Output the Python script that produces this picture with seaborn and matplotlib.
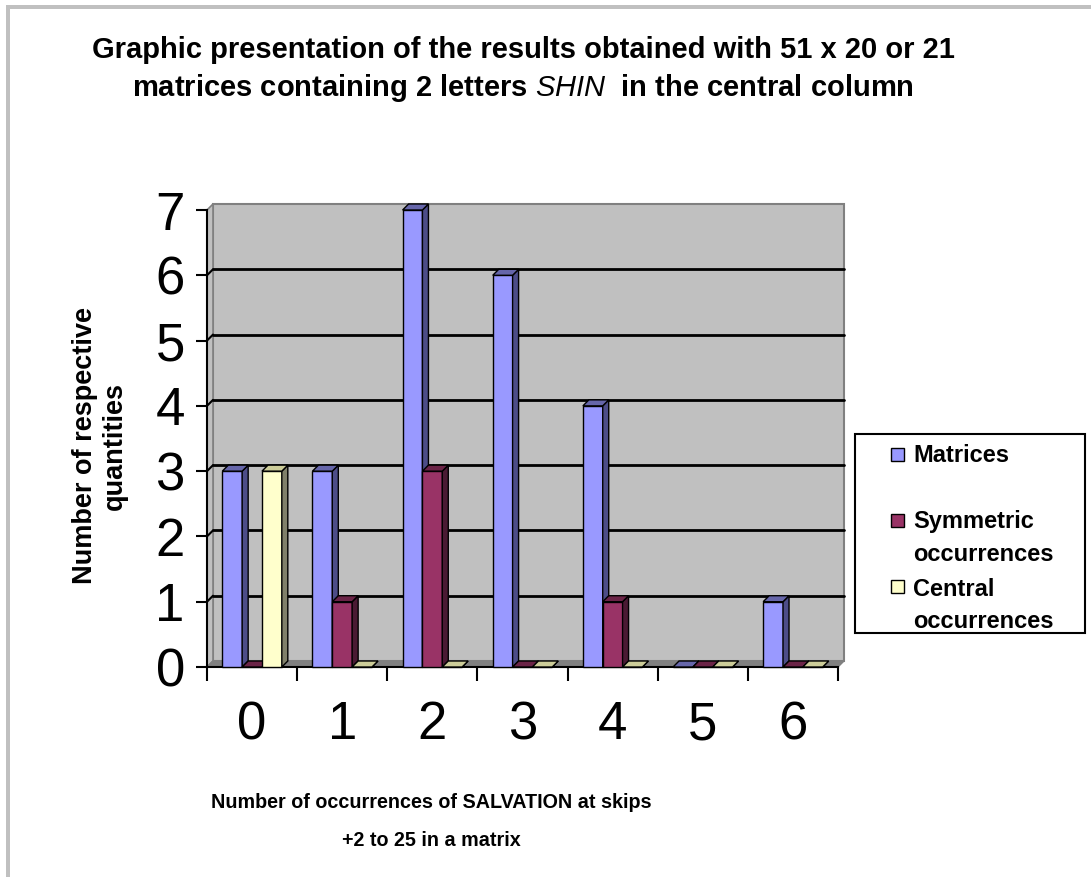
import matplotlib
matplotlib.use("Agg")
import matplotlib.pyplot as plt
import seaborn as sns
import pandas as pd
import numpy as np
from matplotlib.patches import Polygon, Rectangle

# Data
occurrences = ["0", "1", "2", "3", "4", "5", "6"]
matrices = [3, 3, 7, 6, 4, 0, 1]
symmetric = [0, 1, 3, 0, 1, 0, 0]
central = [3, 0, 0, 0, 0, 0, 0]
series_names = ["Matrices", "Symmetric occurrences", "Central occurrences"]
legend_lines = [["Matrices"], ["Symmetric", "occurrences"], ["Central", "occurrences"]]
y_ticks = [0, 1, 2, 3, 4, 5, 6, 7]

front_colors = ["#9999FF", "#993366", "#FFFFCC"]
side_colors = ["#4D4D88", "#4A1A33", "#80806A"]
top_colors = ["#6666AA", "#6B2447", "#CCCC99"]

df = pd.DataFrame({
    "occ": occurrences * 3,
    "count": matrices + symmetric + central,
    "series": np.repeat(series_names, len(occurrences)),
})

sns.set_theme(style="ticks")
plt.rcParams["font.family"] = ["Liberation Sans", "DejaVu Sans"]
plt.rcParams["text.color"] = "black"
plt.rcParams["xtick.color"] = "black"
plt.rcParams["ytick.color"] = "black"
plt.rcParams["mathtext.fontset"] = "custom"
plt.rcParams["mathtext.it"] = "Liberation Sans:italic"
plt.rcParams["mathtext.rm"] = "Liberation Sans:bold"

W, H = 1091, 877
fig = plt.figure(figsize=(W / 100, H / 100), dpi=100)
fig.patch.set_facecolor("white")

# outer frame (top + left)
fig.patches.append(Rectangle((6 / W, 1 - 9 / H), 1, 4 / H, transform=fig.transFigure,
                             facecolor="#C0C0C0", edgecolor="none"))
fig.patches.append(Rectangle((6 / W, 0), 4 / W, 1 - 5 / H, transform=fig.transFigure,
                             facecolor="#C0C0C0", edgecolor="none"))

ax_l, ax_b, ax_w, ax_h = 207, 667, 631, 457
ax = fig.add_axes([ax_l / W, (H - ax_b) / H, ax_w / W, ax_h / H])
ax.set_facecolor("none")

sns.barplot(data=df, x="occ", y="count", hue="series", hue_order=series_names,
            order=occurrences, palette=front_colors, saturation=1, width=0.66,
            edgecolor="black", linewidth=1, legend=False, ax=ax)

ax.set_xlim(-0.5, 6.5)
ax.set_ylim(0, 7)

# 3D depth offset (pixels -> data)
dx = 6 * 7 / ax_w
dy = 6 * 7 / ax_h

# back wall, left wall, floor
ax.add_patch(Rectangle((-0.5 + dx, dy), 7, 7, facecolor="#C0C0C0", edgecolor="#808080",
                       lw=1.5, zorder=0, clip_on=False))
ax.add_patch(Polygon([(-0.5, 0), (-0.5 + dx, dy), (-0.5 + dx, 7 + dy), (-0.5, 7)],
                     facecolor="#C0C0C0", edgecolor="#808080", lw=1.2, zorder=0.5, clip_on=False))
ax.add_patch(Polygon([(-0.5, 0), (6.5, 0), (6.5 + dx, dy), (-0.5 + dx, dy)],
                     facecolor="#808080", edgecolor="#808080", lw=1, zorder=0.5, clip_on=False))
for v in y_ticks[1:-1]:
    ax.plot([-0.5 + dx, 6.5 + dx], [v + dy, v + dy], color="black", lw=2, zorder=1, clip_on=False)
    ax.plot([-0.5, -0.5 + dx], [v, v + dy], color="black", lw=1.5, zorder=1, clip_on=False)

# sides and tops of bars
for i, cont in enumerate(ax.containers):
    for rect in cont:
        x, w, h = rect.get_x(), rect.get_width(), rect.get_height()
        rect.set_zorder(3 + i)
        rect.set_clip_on(False)
        ax.add_patch(Polygon([(x + w, 0), (x + w + dx, dy), (x + w + dx, h + dy), (x + w, h)],
                             facecolor=side_colors[i], edgecolor="black", lw=1,
                             zorder=3 + i, clip_on=False))
        ax.add_patch(Polygon([(x, h), (x + dx, h + dy), (x + w + dx, h + dy), (x + w, h)],
                             facecolor=top_colors[i], edgecolor="black", lw=1,
                             zorder=3 + i, clip_on=False))

# axes and ticks
sns.despine(ax=ax, top=True, right=True)
for side in ["left", "bottom"]:
    ax.spines[side].set_color("black")
    ax.spines[side].set_linewidth(1.5)
ax.set_yticks(y_ticks)
ax.set_yticklabels([str(v) for v in y_ticks])
ax.set_xticks(np.arange(-0.5, 7, 1))
ax.set_xticklabels([])
ax.set_xticks(range(len(occurrences)), minor=True)
ax.set_xticklabels(occurrences, minor=True)
ax.tick_params(axis="y", length=8, width=1.5, color="black", pad=8, labelsize=38)
ax.tick_params(axis="x", which="major", length=10, width=1.5, color="black")
ax.tick_params(axis="x", which="minor", length=0, pad=24, labelsize=38)
for lbl in ax.get_yticklabels() + ax.get_xticklabels(minor=True):
    lbl.set_color("black")
ax.set_xlabel("")
ax.set_ylabel("")

# titles
fig.text(523 / W, 1 - 50 / H, "Graphic presentation of the results obtained with 51 x 20 or 21",
         ha="center", va="center", fontsize=21, fontweight="bold")
fig.text(523 / W, 1 - 88 / H, r"matrices containing 2 letters $\mathit{SHIN}$  in the central column",
         ha="center", va="center", fontsize=21, fontweight="bold")
fig.text(431 / W, 1 - 803 / H, "Number of occurrences of SALVATION at skips",
         ha="center", va="center", fontsize=14.2, fontweight="bold")
fig.text(431 / W, 1 - 840 / H, "+2 to 25 in a matrix",
         ha="center", va="center", fontsize=14.2, fontweight="bold")
fig.text(100 / W, 1 - 446 / H, "Number of respective\nquantities", rotation=90,
         ha="center", va="center", multialignment="center", fontsize=19.5, fontweight="bold")

# legend box
fig.patches.append(Rectangle((855 / W, 1 - 633 / H), 230 / W, 199 / H, transform=fig.transFigure,
                             facecolor="white", edgecolor="black", lw=1.5))
marker_y = [455, 520, 586]
baselines = [[462], [528, 561], [596, 628]]
for i, lines in enumerate(legend_lines):
    fig.patches.append(Rectangle((891 / W, 1 - (marker_y[i] + 6.5) / H), 13 / W, 13 / H,
                                 transform=fig.transFigure, facecolor=front_colors[i],
                                 edgecolor="black", lw=1))
    for line, by in zip(lines, baselines[i]):
        fig.text(913 / W, 1 - by / H, line, ha="left", va="baseline",
                 fontsize=17, fontweight="bold")

fig.savefig("out.png", dpi=100)
